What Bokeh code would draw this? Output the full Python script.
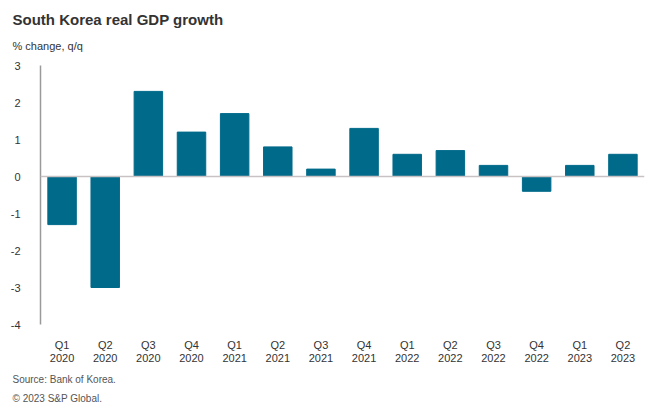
from bokeh.plotting import figure
from bokeh.models import Range1d, FixedTicker, Span, Title
from bokeh.embed import file_html
from bokeh.resources import INLINE

quarters = ["Q1", "Q2", "Q3", "Q4", "Q1", "Q2", "Q3", "Q4", "Q1", "Q2", "Q3", "Q4", "Q1", "Q2"]
years = ["2020", "2020", "2020", "2020", "2021", "2021", "2021", "2021",
         "2022", "2022", "2022", "2022", "2023", "2023"]
growth = [-1.3, -3.0, 2.3, 1.2, 1.7, 0.8, 0.2, 1.3, 0.6, 0.7, 0.3, -0.4, 0.3, 0.6]
y_ticks = [-4, -3, -2, -1, 0, 1, 2, 3]

cats = [f"{q}\n{y}" for q, y in zip(quarters, years)]

FONT = "Liberation Sans"
BAR = "#006a8a"

p = figure(x_range=cats, y_range=Range1d(-4, 3), width=648, height=405,
           output_backend="svg", toolbar_location=None,
           min_border_left=40, min_border_right=4, min_border_top=65, min_border_bottom=80)
p.title = None
p.outline_line_color = None
p.background_fill_color = "white"
p.border_fill_color = "white"
p.grid.grid_line_color = None

p.vbar(x=cats, top=growth, width=0.66, color=BAR)

p.add_layout(Span(location=0, dimension="width", line_color="#c9c2c2", line_width=1.5))

ya = p.yaxis[0]
ya.ticker = FixedTicker(ticks=y_ticks)
ya.major_label_overrides = {t: str(t) for t in y_ticks}
ya.axis_line_color = "#9a9a9a"
ya.axis_line_width = 1.5
ya.major_tick_line_color = None
ya.minor_tick_line_color = None
ya.major_label_standoff = 14
ya.major_label_text_font = FONT
ya.major_label_text_font_size = "11px"
ya.major_label_text_color = "#333333"

xa = p.xaxis[0]
xa.axis_line_color = None
xa.major_tick_line_color = None
xa.major_label_standoff = 8
xa.major_label_text_font = FONT
xa.major_label_text_font_size = "11px"
xa.major_label_text_color = "#333333"
xa.major_label_text_line_height = 1.1

p.add_layout(Title(text="% change, q/q", text_font=FONT, text_font_size="11px",
                   text_font_style="normal", text_color="#333333", offset=-28, standoff=24,
                   vertical_align="top"), "above")
p.add_layout(Title(text="South Korea real GDP growth", text_font=FONT, text_font_size="15px",
                   text_font_style="bold", text_color="#333333", offset=-28, standoff=0), "above")

p.add_layout(Title(text="Source: Bank of Korea.", text_font=FONT, text_font_size="10px",
                   text_font_style="normal", text_color="#555555", offset=-28, standoff=10), "below")
p.add_layout(Title(text="\u00a9 2023 S&P Global.", text_font=FONT, text_font_size="10px",
                   text_font_style="normal", text_color="#555555", offset=-28, standoff=3), "below")

open("out.html", "w").write(file_html(p, INLINE))
